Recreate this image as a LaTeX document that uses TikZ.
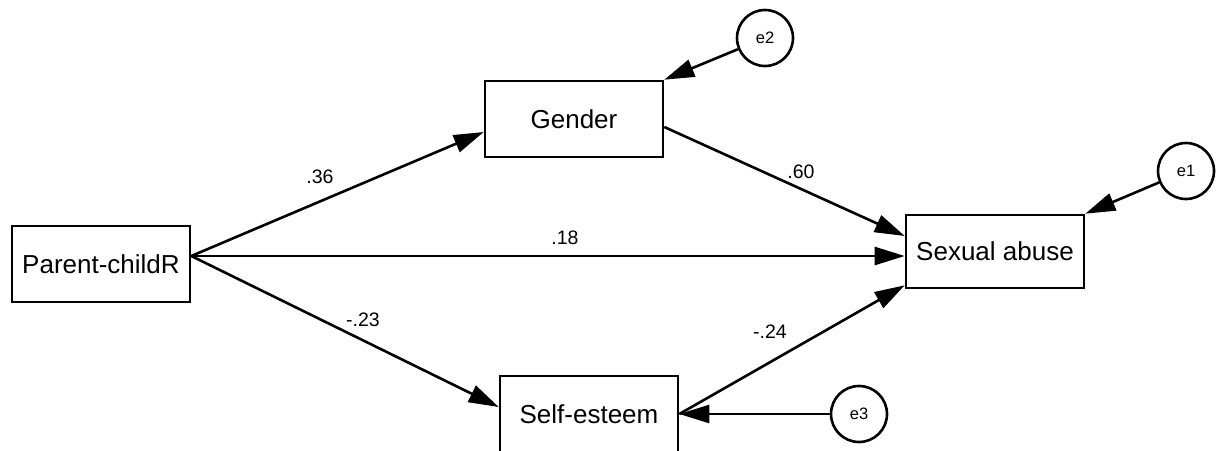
\documentclass[tikz,border=0pt]{standalone}
\usepackage{fontspec}
\setmainfont{Liberation Sans}
\usetikzlibrary{arrows.meta}
\tikzset{
  var/.style={draw,minimum width=89pt,minimum height=38pt,inner sep=0pt,font=\fontsize{13}{15}\selectfont},
  err/.style={draw,circle,minimum size=28pt,inner sep=0pt,font=\fontsize{8.25}{10}\selectfont},
  coef/.style={inner sep=0pt,font=\fontsize{9.75}{12}\selectfont}
}

\begin{document}
\begin{tikzpicture}[x=0.5pt,y=-0.5pt,>={Triangle[length=15pt,width=9pt]},line width=1.3pt]
\useasboundingbox (0,0) rectangle (1218,450);
% observed variables
\node[var] (parent) at (101,264) {Parent-childR};
\node[var] (gender) at (574,119) {Gender};
\node[var] (esteem) at (589,414) {Self-esteem};
\node[var,minimum height=36.5pt] (abuse) at (995,251.5) {Sexual abuse};
% error terms
\node[err] (e2) at (765,38) {e2};
\node[err] (e1) at (1186,171) {e1};
\node[err] (e3) at (859,414) {e3};
% paths
\draw[->] ([yshift=4pt]parent.east) -- ([yshift=-6.5pt]gender.west);
\draw[->] ([yshift=4pt]parent.east) -- ([yshift=-2.25pt]abuse.west);
\draw[->] ([yshift=4pt]parent.east) -- ([yshift=3.5pt]esteem.west);
\draw[->] ([yshift=-4pt]gender.east) -- ([yshift=7.75pt]abuse.west);
\draw[->] (esteem.east) -- ([yshift=2pt]abuse.south west);
\draw[->] (e2) -- (gender.north east);
\draw[->] (e1) -- (abuse.north east);
\draw[->] (e3) -- (esteem.east);
% coefficients
\node[coef] (c36) at (320,177) {.36};
\node[coef] (c18) at (565,238) {.18};
\node[coef] (c23) at (363,320) {-.23};
\node[coef] (c60) at (801,172) {.60};
\node[coef] (c24) at (770,332) {-.24};
\end{tikzpicture}
\end{document}
